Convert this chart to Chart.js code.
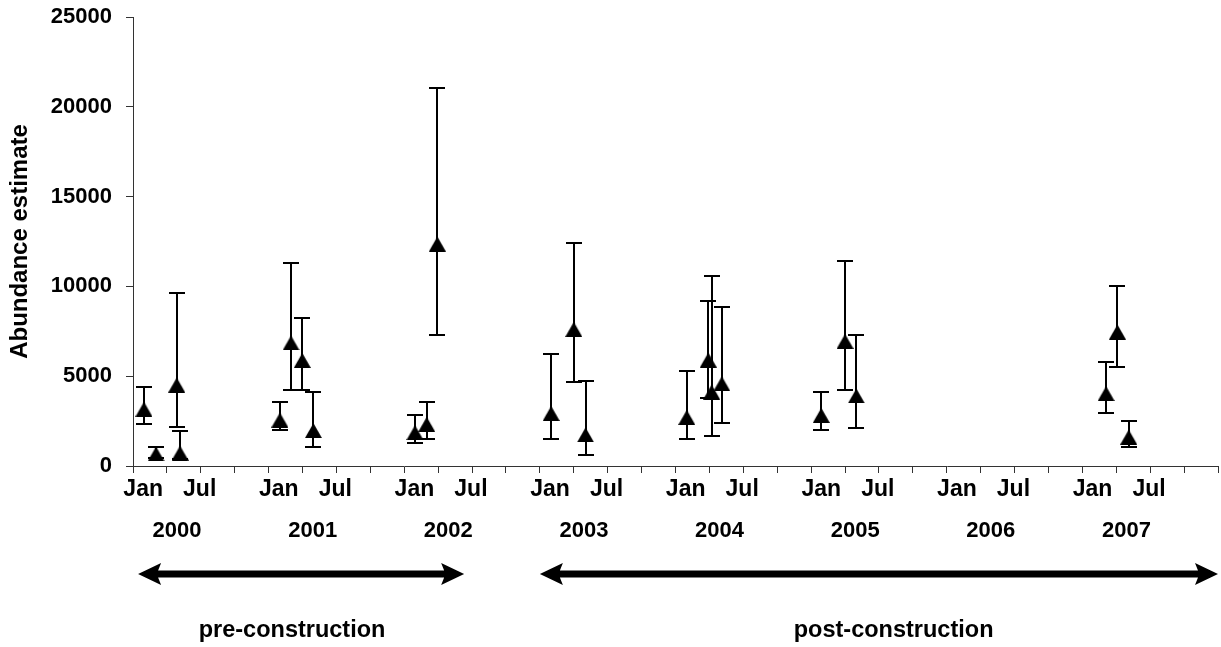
<!DOCTYPE html>
<html>
<head>
<meta charset="utf-8">
<script src="https://cdn.jsdelivr.net/npm/chart.js@4.4.1/dist/chart.umd.min.js"></script>
<style>
html,body{margin:0;padding:0;background:#fff;}
#wrap{width:1221px;height:647px;position:relative;}
</style>
</head>
<body>
<div id="wrap"><canvas id="c" width="1221" height="647"></canvas></div>
<script>
// ---- data (months counted from Jan 2000) ----
const sampleMonth = [0.97, 2.04, 3.87, 4.16, 13.0, 13.98, 14.98, 15.96, 24.95, 25.99, 26.93, 37.0, 39.0, 40.04, 49.0, 50.9, 51.2, 52.1, 60.9, 63.0, 64.0, 86.1, 87.1, 88.1];
const abundance   = [3160, 670, 4510, 720, 2560, 6850, 5880, 1970, 1860, 2320, 12360, 2930, 7610, 1730, 2710, 5900, 4120, 4580, 2820, 6940, 3900, 4030, 7460, 1610];
const upperCI     = [4420, 1070, 9620, 1970, 3580, 11320, 8260, 4120, 2840, 3580, 21050, 6240, 12400, 4730, 5290, 9200, 10580, 8870, 4100, 11430, 7290, 5810, 10040, 2510];
const lowerCI     = [2320, 450, 2190, 400, 2000, 4210, 4210, 1040, 1260, 1490, 7310, 1490, 4660, 610, 1490, 3770, 1670, 2410, 1990, 4230, 2100, 2970, 5500, 1040];
const yearLabels  = ['2000','2001','2002','2003','2004','2005','2006','2007'];
const monthLabels = ['Jan','Jul'];
const yTicks      = [0, 5000, 10000, 15000, 20000, 25000];
const periodLabels = ['pre-construction','post-construction'];
const periodStart  = [0.45, 36];
const periodEnd    = [29.3, 96];

// ---- layout / style constants ----
const FONT = '"Liberation Sans", Arial, Helvetica, sans-serif';
const LAYOUT = {
  monthOffset: [0.9, 5.9],   // label centre within a year (months)
  yearOffset: 3.9,
  monthRowY: 490, yearRowY: 531, arrowY: 574, periodTextY: 631,
  periodTextOffset: [-0.8, 1.3]
};

function triangleMarker(w, h) {
  const c = document.createElement('canvas');
  c.width = w; c.height = h;
  const g = c.getContext('2d');
  g.fillStyle = '#000';
  g.beginPath(); g.moveTo(w / 2, 0); g.lineTo(w, h); g.lineTo(0, h); g.closePath(); g.fill();
  return c;
}
const marker = triangleMarker(17, 15);

const errorBars = {
  id: 'errorBars',
  beforeDatasetsDraw(chart) {
    const { ctx, scales: { x, y } } = chart;
    ctx.save();
    ctx.strokeStyle = '#000';
    ctx.lineWidth = 2;
    const cap = 8;
    for (let i = 0; i < sampleMonth.length; i++) {
      const px = Math.round(x.getPixelForValue(sampleMonth[i]));
      const t = Math.round(y.getPixelForValue(upperCI[i]));
      const b = Math.round(y.getPixelForValue(lowerCI[i]));
      ctx.beginPath();
      ctx.moveTo(px, t); ctx.lineTo(px, b);
      ctx.moveTo(px - cap, t); ctx.lineTo(px + cap, t);
      ctx.moveTo(px - cap, b); ctx.lineTo(px + cap, b);
      ctx.stroke();
    }
    ctx.restore();
  }
};

function drawArrow(ctx, x1, x2, y) {
  const head = 23, half = 11, shaft = 7;
  ctx.beginPath();
  ctx.moveTo(x1, y);
  ctx.lineTo(x1 + head, y - half);
  ctx.lineTo(x1 + head - 3, y - shaft / 2);
  ctx.lineTo(x2 - head + 3, y - shaft / 2);
  ctx.lineTo(x2 - head, y - half);
  ctx.lineTo(x2, y);
  ctx.lineTo(x2 - head, y + half);
  ctx.lineTo(x2 - head + 3, y + shaft / 2);
  ctx.lineTo(x1 + head - 3, y + shaft / 2);
  ctx.lineTo(x1 + head, y + half);
  ctx.closePath();
  ctx.fill();
}

const annotations = {
  id: 'annotations',
  afterDraw(chart) {
    const { ctx, scales: { x } } = chart;
    ctx.save();
    ctx.fillStyle = '#000';
    ctx.textAlign = 'center';
    ctx.textBaseline = 'middle';
    yearLabels.forEach((yr, i) => {
      const base = i * 12;
      ctx.font = 'bold 23px ' + FONT;
      monthLabels.forEach((m, j) => {
        ctx.fillText(m, x.getPixelForValue(base + LAYOUT.monthOffset[j]), LAYOUT.monthRowY);
      });
      ctx.font = 'bold 22px ' + FONT;
      ctx.fillText(yr, x.getPixelForValue(base + LAYOUT.yearOffset), LAYOUT.yearRowY);
    });
    ctx.font = 'bold 23.5px ' + FONT;
    periodLabels.forEach((lab, i) => {
      const a = x.getPixelForValue(periodStart[i]);
      const b = x.getPixelForValue(periodEnd[i]);
      drawArrow(ctx, a, b, LAYOUT.arrowY);
      const mid = x.getPixelForValue((periodStart[i] + periodEnd[i]) / 2 + LAYOUT.periodTextOffset[i]);
      ctx.fillText(lab, mid, LAYOUT.periodTextY);
    });
    ctx.restore();
  }
};

const axisColor = '#333';
new Chart(document.getElementById('c'), {
  type: 'scatter',
  data: {
    datasets: [{
      data: sampleMonth.map((m, i) => ({ x: m, y: abundance[i] })),
      pointStyle: marker,
      radius: 8,
      showLine: false
    }]
  },
  options: {
    responsive: false,
    animation: false,
    devicePixelRatio: 1,
    events: [],
    layout: { autoPadding: false, padding: { top: 17, right: 3, left: 0, bottom: 0 } },
    plugins: { legend: { display: false }, tooltip: { enabled: false } },
    scales: {
      x: {
        type: 'linear', min: 0, max: 96,
        ticks: { stepSize: 3, display: false },
        grid: { drawOnChartArea: false, tickLength: 7, color: axisColor },
        border: { color: axisColor, width: 1 },
        afterFit(s) { s.height = 647 - 466; s.paddingLeft = 0; s.paddingRight = 0; }
      },
      y: {
        min: yTicks[0], max: yTicks[yTicks.length - 1],
        afterBuildTicks(s) { s.ticks = yTicks.map(v => ({ value: v })); },
        ticks: {
          color: '#000',
          font: { family: FONT, size: 22, weight: 'bold' },
          padding: 14,
          callback: v => String(v)
        },
        grid: { drawOnChartArea: false, tickLength: 7, color: axisColor },
        border: { color: axisColor, width: 1 },
        title: {
          display: true, text: 'Abundance estimate', color: '#000',
          font: { family: FONT, size: 24, weight: 'bold' },
          padding: { top: 6, bottom: 0 }
        },
        afterFit(s) { s.width = 133; s.paddingTop = 0; s.paddingBottom = 0; }
      }
    }
  },
  plugins: [errorBars, annotations]
});
</script>
</body>
</html>
